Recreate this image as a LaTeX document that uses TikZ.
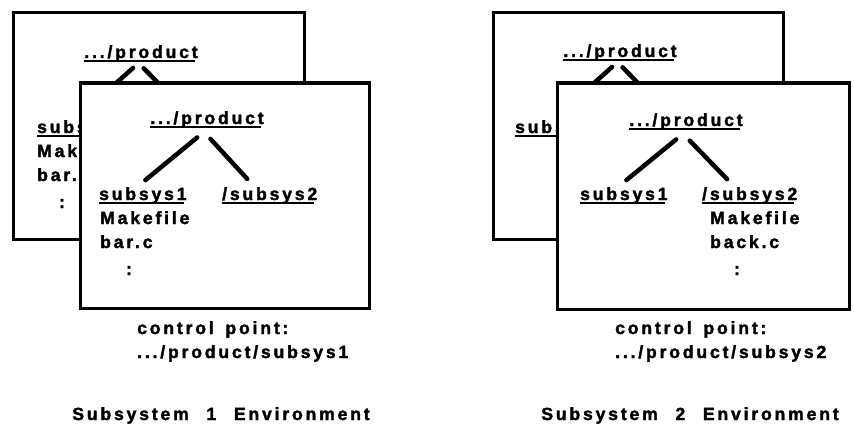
\documentclass[tikz,border=0pt]{standalone}
\usepackage{fontspec}
\newfontfamily\dirfont[LetterSpace=16, FakeBold=2]{Liberation Sans Bold}
\newcommand\dirul[1]{\setbox0\hbox{#1}\rlap{\vrule height -2.2pt depth 4.4pt width \dimexpr\wd0-3pt\relax}\box0}

\begin{document}
\begin{tikzpicture}[x=1pt, y=-1pt,
	panel/.style={rectangle, draw=black, line width=3pt, fill=white, inner sep=0pt},
	branch/.style={line width=4.5pt, line cap=round},
	dirtext/.style={inner sep=0pt, font=\dirfont\fontsize{17.6}{20}\selectfont}]
\useasboundingbox (0,0) rectangle (854,436);

% subsystem 1
\node[panel, minimum width=291pt, minimum height=226pt](backBox1) at (158.5,126){};
	\node[dirtext, anchor=base](prodBack1) at (141,58){\dirul{.../product}};
	\node[dirtext, anchor=base west](subBack1) at (37,133){\dirul{subsys1}};
	\node[dirtext, anchor=base west](makeBack1) at (37,157){Makefile};
	\node[dirtext, anchor=base west](barBack1) at (37,181){bar.c};
	\node[dirtext, anchor=base](dotsBack1) at (62,208){:};
	\coordinate(hidBack1) at (196,121);
	\draw[branch, shorten <=8pt, shorten >=25pt] ([xshift=-2pt]prodBack1.south) -- ([xshift=-6pt]subBack1.north);
	\draw[branch, shorten <=8pt] ([xshift=-3pt]prodBack1.south) -- (hidBack1);

\node[panel, minimum width=289pt, minimum height=225pt](frontBox1) at (224.5,195.5){};
	\node[dirtext, anchor=base](prodFront1) at (207,124){\dirul{.../product}};
	\node[dirtext, anchor=base west](subOne1) at (99,200){\dirul{subsys1}};
	\node[dirtext, anchor=base west](subTwo1) at (222,200){\dirul{/subsys2}};
	\node[dirtext, anchor=base west](makeFront1) at (100,224){Makefile};
	\node[dirtext, anchor=base west](fileFront1) at (100,248){bar.c};
	\node[dirtext, anchor=base](dotsFront1) at (129,275){:};
	\draw[branch, shorten <=14pt, shorten >=11pt] ([xshift=1pt]prodFront1.south) -- ([xshift=-6pt]subOne1.north);
	\draw[branch, shorten <=14pt, shorten >=11pt] ([xshift=-6pt]prodFront1.south) -- ([xshift=-15pt]subTwo1.north);

	\node[dirtext, anchor=base west](ctrlLabel1) at (137,334){control\hspace{4pt} point:};
	\node[dirtext, anchor=base west](ctrlPath1) at (137,358){.../product/subsys1};
	\node[dirtext, anchor=base](envLabel1) at (221,420){Subsystem\hspace{10pt} 1\hspace{10pt} Environment};

% subsystem 2
\node[panel, minimum width=290pt, minimum height=226pt](backBox2) at (638,126){};
	\node[dirtext, anchor=base](prodBack2) at (620,57){\dirul{.../product}};
	\node[dirtext, anchor=base west](subBack2) at (515,133){\dirul{subsys1}};
	\coordinate(hidBack2) at (675,121);
	\draw[branch, shorten <=8pt, shorten >=25pt] ([xshift=-2pt]prodBack2.south) -- ([xshift=-6pt]subBack2.north);
	\draw[branch, shorten <=8pt] ([xshift=-3pt]prodBack2.south) -- (hidBack2);

\node[panel, minimum width=292pt, minimum height=226pt](frontBox2) at (703,196){};
	\node[dirtext, anchor=base](prodFront2) at (686,126){\dirul{.../product}};
	\node[dirtext, anchor=base west](subOne2) at (580,200){\dirul{subsys1}};
	\node[dirtext, anchor=base west](subTwo2) at (702,200){\dirul{/subsys2}};
	\node[dirtext, anchor=base west](makeFront2) at (710,224){Makefile};
	\node[dirtext, anchor=base west](fileFront2) at (710,248){back.c};
	\node[dirtext, anchor=base](dotsFront2) at (737,275){:};
	\draw[branch, shorten <=14pt, shorten >=11pt] ([xshift=1pt]prodFront2.south) -- ([xshift=-6pt]subOne2.north);
	\draw[branch, shorten <=14pt, shorten >=11pt] ([xshift=-6pt]prodFront2.south) -- ([xshift=-15pt]subTwo2.north);

	\node[dirtext, anchor=base west](ctrlLabel2) at (615,334){control\hspace{4pt} point:};
	\node[dirtext, anchor=base west](ctrlPath2) at (615,358){.../product/subsys2};
	\node[dirtext, anchor=base](envLabel2) at (690,420){Subsystem\hspace{10pt} 2\hspace{10pt} Environment};
\end{tikzpicture}
\end{document}
